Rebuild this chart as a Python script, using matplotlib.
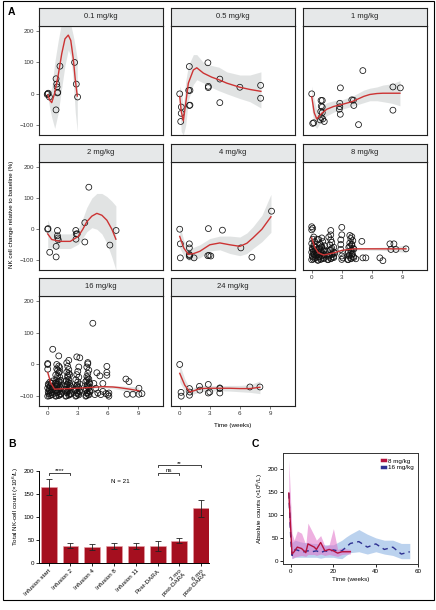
import numpy as np
import matplotlib.pyplot as plt
from matplotlib.patches import Rectangle
from matplotlib.lines import Line2D

plt.rcParams['font.family'] = ['Liberation Sans', 'DejaVu Sans']

W, H = 436, 610

# ---------------- panel A data (facets) ----------------
p01_x = [0, 0.05, -0.05, 0.17, 0.83, 0.9, 0.93, 1.0, 0.97, 0.83, 1.22, 2.68, 2.85, 2.98]
p01_y = [0, 2, -2, -10, 48, 31, 22, 5, 3, -51, 88, 100, 31, -10]
f01_x = [0, 0.2, 0.4, 0.7, 1.05, 1.4, 1.72, 2.05, 2.3, 2.55, 2.75, 2.95]
f01_y = [-3, -20, -28, 3, 60, 128, 175, 187, 170, 112, 45, -7]
f01_lo = [-10, -45, -75, -110, -60, 20, 90, 140, 120, 40, -60, -120]
f01_hi = [5, 5, 20, 100, 170, 230, 260, 240, 220, 185, 150, 110]

p05_x = [0, 0.16, 0.15, 0.1, 0.96, 1.02, 0.9, 0.96, 1.02, 2.81, 2.85, 2.85, 4.0, 4.0, 6.0, 8.07, 8.07]
p05_y = [0, -42, -62, -88, 87, 11, 11, -37, -36, 99, 24, 20, 47, -28, 21, 27, -14]
f05_x = [0, 0.15, 0.36, 0.6, 0.86, 1.36, 1.7, 2.36, 3.2, 3.9, 4.7, 6.0, 7.0, 8.1]
f05_y = [-8, -55, -86, -30, 34, 76, 83, 66, 53, 45, 34, 21, 14, 8]
f05_lo = [-40, -120, -131, -100, -20, 30, 45, 35, 20, 10, 0, -15, -25, -45]
f05_hi = [25, 10, -40, 40, 90, 125, 125, 100, 90, 85, 70, 60, 60, 70]

p1_x = [0, 0.1, 0.2, 0.93, 1.05, 0.95, 1.05, 0.9, 1.05, 0.95, 1.1, 1.25, 0.85,
        2.86, 2.8, 2.8, 2.75, 2.85, 4.0, 4.16, 4.2, 4.67, 5.1, 8.1, 8.84, 8.1]
p1_y = [0, -94, -92, -21, -21, -39, -42, -56, -60, -75, -80, -88, -83,
        19, -30, -41, -49, -65, -19, -20, -37, -98, 74, 22, 19, -52]
f1_x = [0, 0.25, 0.5, 1.0, 1.5, 2.2, 3.1, 4.0, 4.5, 5.2, 5.8, 6.5, 7.1, 8.0, 8.8]
f1_y = [-9, -60, -80, -62, -49, -40, -33, -25, -18, -8, -2, 1, 2, 2, 2]
f1_lo = [-45, -100, -110, -85, -70, -58, -48, -40, -35, -28, -22, -22, -25, -30, -38]
f1_hi = [25, -20, -50, -40, -28, -22, -18, -8, 0, 12, 18, 22, 28, 32, 42]

p2_x = [0, 0.03, 0.2, 0.84, 0.84, 0.97, 0.97, 1.05, 1.0, 2.8, 2.85, 2.82, 2.95, 3.7, 3.7, 4.1, 6.2, 6.82]
p2_y = [0, 2, -74, -89, -55, -4, -21, -34, -28, -4, -15, -32, -15, 21, -41, 135, -51, -4]
f2_x = [0, 0.4, 1.25, 2.25, 3.05, 3.5, 3.9, 4.4, 4.9, 5.4, 5.9, 6.4, 6.8]
f2_y = [-15, -33, -39, -39, -23, 0, 24, 42, 51, 45, 29, 0, -32]
f2_lo = [-60, -60, -62, -62, -48, -28, -8, 5, 0, -15, -45, -90, -131]
f2_hi = [30, -5, -15, -15, 2, 35, 70, 100, 115, 115, 105, 90, 75]

p4_x = [0, 0.06, 0.06, 0.96, 0.96, 0.96, 0.96, 1.0, 1.43, 2.86, 2.8, 2.93, 3.1, 4.26, 6.1, 7.2, 9.16]
p4_y = [0, -47, -92, -47, -60, -81, -87, -84, -92, 2, -85, -84, -86, -3, -60, -90, 58]
f4_x = [0, 0.4, 0.86, 1.4, 2.0, 3.0, 4.0, 5.0, 6.0, 6.7, 7.3, 8.2, 9.1]
f4_y = [-23, -60, -81, -78, -71, -50, -44, -50, -55, -45, -28, 0, 40]
f4_lo = [-60, -85, -100, -98, -92, -70, -66, -78, -85, -78, -62, -40, -10]
f4_hi = [12, -35, -62, -58, -50, -30, -22, -22, -25, -12, 8, 45, 112]

p8_x = [0.0, 0.3, 0.1, 0.4, 0.2, 0.0, 0.3, 0.1, 0.4, 0.2, 0.0, 0.3, 0.1, 0.2, 0.0, 0.0, 0.1,
        0.6, 0.9, 1.2, 0.7, 1.0, 1.3, 0.6, 0.9, 1.2, 0.7, 1.0, 1.3, 0.8, 1.1, 0.7, 1.0,
        1.6, 1.9, 2.2, 1.7, 2.0, 2.3, 1.6, 1.9, 2.2, 1.8, 2.0, 1.9, 1.9, 1.9, 1.7,
        3.0, 3.0, 2.9, 2.9, 2.9, 3.0, 3.0, 3.1,
        3.6, 3.9, 4.2, 3.7, 4.0, 3.6, 3.9, 4.2, 3.7, 4.0, 3.8, 4.1, 3.9, 4.0, 3.8,
        4.4, 5.0, 5.1, 5.4, 6.8, 7.1, 7.8, 8.2, 7.9, 8.4, 9.4, 0.56]
p8_y = [-98, -94, -89, -84, -79, -74, -69, -64, -58, -52, -46, -40, -32, -25, 8, -2, 3,
        -100, -97, -94, -90, -86, -82, -78, -74, -69, -64, -59, -53, -47, -40, -33, -28,
        -98, -95, -91, -87, -82, -77, -71, -65, -58, -50, -42, -34, -4, -18, -25,
        6, -18, -34, -49, -65, -86, -97, -92,
        -98, -95, -91, -86, -81, -76, -70, -64, -58, -51, -44, -37, -30, -24, -20,
        -95, -39, -92, -92, -92, -101, -47, -47, -65, -65, -63, -32]
# second layer of the dense 8 mg/kg columns
p8b_x = [0.15, 0.35, 0.05, 0.25, 0.45, 0.15, 0.35, 0.05, 0.25,
         0.65, 0.95, 1.25, 0.75, 1.05, 1.15, 0.65, 0.95, 1.25, 0.8, 1.0, 0.9,
         1.65, 1.95, 2.15, 1.75, 2.05, 2.25, 1.85, 2.0,
         3.65, 3.95, 4.15, 3.75, 4.05, 3.65, 3.95, 4.15, 3.8, 4.0]
p8b_y = [-96, -91, -86, -81, -76, -71, -66, -61, -55,
         -99, -95, -92, -88, -84, -80, -76, -71, -66, -61, -56, -50,
         -97, -93, -89, -84, -79, -74, -68, -61,
         -97, -93, -88, -83, -78, -73, -67, -61, -55, -48]
f8_x = [0, 0.3, 0.66, 1.2, 2.2, 3.0, 4.2, 5.5, 7.0, 8.2, 9.4]
f8_y = [-28, -58, -76, -83, -76, -68, -63, -63, -63, -63, -63]
f8_lo = [-38, -65, -81, -88, -81, -72, -67, -67, -68, -70, -75]
f8_hi = [-18, -50, -71, -78, -71, -64, -59, -59, -58, -56, -51]

p16_x = [0.0, 0.3, 0.1, 0.4, 0.2, 0.5, 0.0, 0.3, 0.1, 0.4, 0.2, 0.5, 0.0, 0.0, 0.0,
         0.8, 1.1, 1.3, 0.9, 1.2, 0.8, 1.1, 1.3, 0.9, 1.2, 0.8, 1.1, 1.3, 0.9, 1.2, 0.8, 1.1, 1.0, 1.2, 0.9, 1.1, 0.5,
         1.8, 2.1, 2.3, 1.9, 2.2, 1.8, 2.1, 2.3, 1.9, 2.2, 1.8, 2.1, 2.0, 2.2, 1.9, 2.1, 2.0, 1.9, 2.1,
         2.8, 3.1, 2.9, 3.2, 2.8, 3.1, 2.9, 3.2, 3.0, 2.8, 3.1, 2.9, 3.0, 2.9, 3.2, 3.1,
         3.8, 4.1, 3.9, 4.2, 3.8, 4.1, 3.9, 4.2, 3.8, 4.1, 3.9, 4.0, 4.1, 3.9, 4.0, 4.0, 4.5,
         4.6, 4.8, 4.9, 5.2, 5.0, 5.3, 5.5, 5.8, 6.0, 6.1, 5.9, 5.9, 5.9, 6.1, 4.7, 5.5,
         7.8, 8.1, 7.9, 8.5, 9.1, 9.1, 9.4]
p16_y = [-100, -97, -92, -88, -83, -79, -74, -70, -65, -60, -56, -52, 0, 3, -15,
         -100, -98, -94, -90, -86, -82, -78, -74, -70, -65, -60, -55, -50, -45, -40, -33, -26, -18, -10, 0, 27, 48,
         -100, -97, -93, -89, -84, -80, -75, -70, -65, -60, -54, -48, -40, -32, -24, -16, -6, 5, 13,
         -100, -96, -91, -86, -80, -74, -68, -62, -55, -48, -40, -32, -22, 24, 21, -8,
         -100, -96, -91, -86, -80, -74, -68, -61, -54, -46, -38, -28, -18, -8, 2, 6, 130,
         -60, -75, -26, -36, -90, -95, -85, -92, -95, -90, -6, -25, -34, -100, -95, -60,
         -46, -54, -94, -94, -94, -75, -92]
# second layer of the dense 16 mg/kg columns
p16b_x = [0.15, 0.45, 0.25, 0.05, 0.35, 0.15, 0.45, 0.25, 0.05, 0.35,
          0.85, 1.15, 1.25, 0.95, 1.05, 0.85, 1.15, 1.25, 0.95, 1.05, 0.85, 1.15, 1.0, 1.2, 0.9, 1.1,
          1.85, 2.15, 2.25, 1.95, 2.05, 1.85, 2.15, 2.25, 1.95, 2.05, 1.85, 2.0, 2.1,
          2.85, 3.05, 2.95, 3.15, 2.85, 3.05, 2.95,
          3.85, 4.05, 3.95, 4.15, 3.85, 4.05, 3.95, 4.15, 3.9, 4.0]
p16b_y = [-99, -95, -90, -86, -81, -77, -72, -68, -62, -58,
          -99, -96, -92, -88, -84, -80, -76, -72, -67, -62, -57, -52, -36, -22, -14, -5,
          -99, -95, -91, -86, -82, -77, -72, -67, -62, -57, -51, -36, -28,
          -98, -93, -88, -83, -77, -71, -65,
          -98, -94, -89, -83, -77, -71, -64, -57, -50, -42]
f16_x = [0, 0.3, 0.68, 1.2, 2.2, 3.5, 4.5, 5.5, 6.5, 7.1, 8.0, 9.1]
f16_y = [-25, -58, -78, -77, -76, -74, -72, -70, -71, -73, -77, -83]
f16_lo = [-32, -63, -81, -80, -78, -77, -75, -74, -76, -79, -85, -95]
f16_hi = [-18, -53, -75, -74, -73, -71, -69, -66, -66, -67, -69, -71]

p24_x = [0, 0.13, 0.15, 0.97, 1.0, 0.97, 1.97, 2.0, 2.85, 3.0, 2.85, 4.0, 4.0, 4.0, 7.0, 8.0]
p24_y = [0, -88, -100, -76, -87, -97, -69, -81, -63, -87, -90, -76, -90, -74, -71, -71]
f24_x = [0, 0.5, 1.0, 1.5, 2.0, 3.0, 4.0, 5.0, 6.0, 7.0, 8.0]
f24_y = [-28, -65, -87, -82, -76, -75, -75, -75, -76, -76, -72]
f24_lo = [-55, -85, -97, -92, -86, -84, -83, -84, -86, -88, -92]
f24_hi = [0, -45, -77, -72, -66, -66, -67, -66, -66, -64, -52]

# ---------------- panel B data ----------------
b_labels = ['Infusion start', 'Infusion 2', 'Infusion 4', 'Infusion 8', 'Infusion 11',
            'Post-DARA', '3 mo\npost-DARA', '6 mo\npost-DARA']
b_mean = [166, 38, 35, 38, 38, 37, 49, 119]
b_err = [18, 5, 6, 7, 7, 11, 5, 18]

# ---------------- panel C data ----------------
c8_x = [-1, 0.5, 1.5, 3, 5, 7, 8, 11, 12, 14, 16, 18, 20, 22, 24, 26, 28]
c8_y = [147, 15, 20, 30, 27, 18, 37, 30, 25, 40, 22, 25, 22, 17, 20, 20, 20]
c8_lo = [80, 5, 8, 10, 12, 10, 14, 14, 12, 15, 12, 14, 12, 10, 14, 15, 15]
c8_hi = [220, 60, 45, 65, 60, 35, 82, 55, 45, 55, 32, 35, 70, 25, 28, 26, 25]

c16_x = [-1, 0, 0.5, 2, 4, 6, 8, 10, 12, 14, 16, 18, 20, 22, 24, 26, 28, 32, 36, 40, 44, 48, 52, 56]
c16_y = [147, 40, 12, 25, 22, 20, 22, 20, 22, 18, 22, 20, 24, 22, 22, 30, 38, 42, 30, 37, 25, 30, 15, 20]
c16_lo = [140, 20, 5, 8, 8, 8, 8, 8, 8, 6, 8, 8, 8, 6, 5, 12, 18, 20, 15, 20, 15, 12, 5, 5]
c16_hi = [152, 60, 40, 45, 42, 40, 40, 38, 38, 35, 35, 35, 35, 40, 45, 52, 58, 68, 58, 50, 45, 45, 38, 38]


def box(l, t, r, b):
    return [l / W, 1 - b / H, (r - l) / W, (b - t) / H]


fig = plt.figure(figsize=(W / 100, H / 100), dpi=100)
fig.patches.append(Rectangle((3 / W, 1 - 600 / H), 431 / W, 599 / H, transform=fig.transFigure,
                             fill=False, lw=0.8, ec='black'))

# ---------------- A: facets ----------------
facets = [
    ('0.1 mg/kg', p01_x, p01_y, f01_x, f01_y, f01_lo, f01_hi, 0, 0),
    ('0.5 mg/kg', p05_x, p05_y, f05_x, f05_y, f05_lo, f05_hi, 1, 0),
    ('1 mg/kg', p1_x, p1_y, f1_x, f1_y, f1_lo, f1_hi, 2, 0),
    ('2 mg/kg', p2_x, p2_y, f2_x, f2_y, f2_lo, f2_hi, 0, 1),
    ('4 mg/kg', p4_x, p4_y, f4_x, f4_y, f4_lo, f4_hi, 1, 1),
    ('8 mg/kg', p8_x + p8b_x, p8_y + p8b_y, f8_x, f8_y, f8_lo, f8_hi, 2, 1),
    ('16 mg/kg', p16_x + p16b_x, p16_y + p16b_y, f16_x, f16_y, f16_lo, f16_hi, 0, 2),
    ('24 mg/kg', p24_x, p24_y, f24_x, f24_y, f24_lo, f24_hi, 1, 2),
]
col_left = [39, 171, 303]
strip_top = [8, 144, 278]
panel_top = [26, 162, 296]
panel_bot = [135, 270, 406]
show_x = {'8 mg/kg', '16 mg/kg', '24 mg/kg'}

for name, px, py, fx, fy, flo, fhi, c, r in facets:
    l = col_left[c]
    ax = fig.add_axes(box(l, panel_top[r], l + 124, panel_bot[r]))
    ax.fill_between(fx, flo, fhi, color='#dcdfdf', alpha=0.85, lw=0)
    ax.scatter(px, py, s=18, facecolors='none', edgecolors='#111111', linewidths=0.55, zorder=3)
    ax.plot(fx, fy, color='#cc3333', lw=1.0, zorder=4)
    ax.set_xlim(-0.87, 11.5)
    ax.set_ylim(-131, 216)
    ax.set_xticks([0, 3, 6, 9])
    ax.set_yticks([-100, 0, 100, 200])
    ax.tick_params(length=2, width=0.5, color='#444444', labelsize=4.5, pad=1.5, labelcolor='#333333')
    if c != 0:
        ax.tick_params(axis='y', left=False, labelleft=False)
    else:
        ax.set_yticklabels(['\u2212100', '0', '100', '200'])
    if name not in show_x:
        ax.tick_params(axis='x', bottom=False, labelbottom=False)
    for s in ax.spines.values():
        s.set_linewidth(0.8)
        s.set_color('#222222')
    sax = fig.add_axes(box(l, strip_top[r], l + 124, panel_top[r]))
    sax.set_facecolor('#e6e8e9')
    sax.set_xticks([])
    sax.set_yticks([])
    for s in sax.spines.values():
        s.set_linewidth(0.8)
        s.set_color('#222222')
    sax.text(0.5, 0.5, name, ha='center', va='center', fontsize=5.5, color='#222222',
             transform=sax.transAxes)

fig.text(8 / W, 1 - 12 / H, 'A', fontsize=7.5, fontweight='bold', va='center')
fig.text(12 / W, 1 - 214 / H, 'NK cell change relative to baseline (%)', rotation=90,
         fontsize=4.5, ha='center', va='center')
fig.text(233 / W, 1 - 426 / H, 'Time (weeks)', fontsize=4.5, ha='center', va='center')

# ---------------- B: bar chart ----------------
axb = fig.add_axes(box(39.3, 450, 209.3, 563.3))
xb = np.arange(len(b_labels))
axb.bar(xb, b_mean, width=0.73, color='#a50f1f', edgecolor='#e8a0a8', linewidth=0.4, zorder=2)
axb.errorbar(xb, b_mean, yerr=b_err, fmt='none', ecolor='#222222', elinewidth=0.6,
             capsize=2.2, capthick=0.6, zorder=3)
axb.set_xlim(-0.43, 7.37)
axb.set_ylim(0, 246)
axb.set_yticks([0, 50, 100, 150, 200])
axb.set_xticks(xb)
axb.set_xticklabels(b_labels, rotation=45, ha='right', rotation_mode='anchor', fontsize=4.5,
                    linespacing=0.95)
axb.tick_params(length=2, width=0.6, labelsize=4.5, pad=1.5)
for s in ['top', 'right']:
    axb.spines[s].set_visible(False)
axb.spines['left'].set_bounds(0, 200)
for s in ['left', 'bottom']:
    axb.spines[s].set_linewidth(0.7)
axb.set_ylabel('Total NK-cell count (\u00d710$^6$/L)', fontsize=4.5, labelpad=2)


def bracket(ax, x0, x1, y, txt, ty):
    ax.plot([x0, x0, x1, x1], [y - 5, y, y, y - 5], color='#222222', lw=0.6)
    ax.text((x0 + x1) / 2, ty, txt, ha='center', va='bottom', fontsize=4.5)


bracket(axb, 0, 1, 196, '****', 195)
bracket(axb, 5, 6, 196, 'ns', 197)
bracket(axb, 5, 7, 214, '**', 212)
axb.text(3.27, 177, 'N = 21', ha='center', va='center', fontsize=4.5)
fig.text(8 / W, 1 - 444 / H, 'B', fontsize=7.5, fontweight='bold', va='center')

# ---------------- C: time course ----------------
axc = fig.add_axes(box(283.3, 453.3, 418.3, 564))
axc.fill_between(c16_x, c16_lo, c16_hi, color='#8fb4e3', alpha=0.6, lw=0)
axc.fill_between(c8_x, c8_lo, c8_hi, color='#e070c8', alpha=0.55, lw=0)
axc.plot(c16_x, c16_y, color='#2e3192', lw=1.0, dashes=(4, 3))
axc.plot(c8_x, c8_y, color='#b5123e', lw=1.0)
axc.set_xlim(-3.6, 60)
axc.set_ylim(-6.5, 233)
axc.set_xticks([0, 20, 40, 60])
axc.set_yticks([0, 50, 100, 150, 200])
axc.tick_params(length=2, width=0.6, labelsize=4.5, pad=1.5)
for s in axc.spines.values():
    s.set_linewidth(0.7)
    s.set_color('#333333')
axc.set_xlabel('Time (weeks)', fontsize=4.5, labelpad=2)
axc.set_ylabel('Absolute counts (\u00d710$^6$/L)', fontsize=4.5, labelpad=2)
handles = [Line2D([], [], color='#b5123e', lw=2.5), Line2D([], [], color='#2e3192', lw=2.5)]
axc.legend(handles, ['8 mg/kg', '16 mg/kg'], loc='upper right', frameon=False, fontsize=4.5,
           handlelength=0.5, handletextpad=0.4, labelspacing=0.15, borderaxespad=0.4)
fig.text(252 / W, 1 - 444 / H, 'C', fontsize=7.5, fontweight='bold', va='center')

fig.savefig('out.png', dpi=100)
